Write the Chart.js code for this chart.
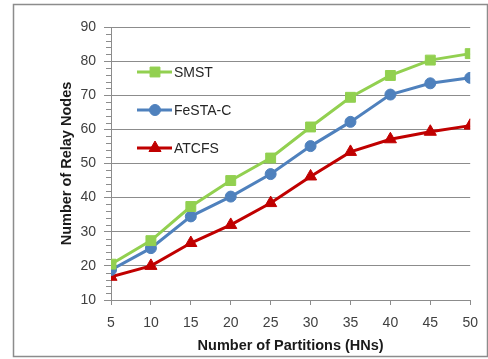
<!DOCTYPE html>
<html lang="en">
<head>
    <meta charset="UTF-8">
    <title>Relay Nodes vs Partitions</title>
    <script src="https://cdn.jsdelivr.net/npm/chart.js"></script>
    <style>
        body { margin: 0; background: #fff; }
        #wrap { position: relative; width: 488px; height: 359px; }
    </style>
</head>
<body>
    <div id="wrap"><canvas id="relayChart" width="488" height="359"></canvas></div>

    <script>
        // number of partitions (HNs)
        const partitions = [5, 10, 15, 20, 25, 30, 35, 40, 45, 50];
        const smst   = [20.5, 27.4, 37.4, 45.0, 51.6, 60.7, 69.4, 75.8, 80.3, 82.2];
        const festaC = [18.8, 25.2, 34.5, 40.3, 46.9, 55.1, 62.2, 70.2, 73.5, 75.1];
        const atcfs  = [16.8, 20.0, 26.7, 32.0, 38.4, 46.2, 53.4, 57.1, 59.3, 61.1];
        const yTicks = [10, 20, 30, 40, 50, 60, 70, 80, 90];

        const fontName = "'Liberation Sans', Arial, sans-serif";

        function toPoints(values) {
            return partitions.map((x, i) => ({ x: x, y: values[i] }));
        }

        // frame around the whole figure
        const framePlugin = {
            id: 'frame',
            beforeDraw(chart) {
                const ctx = chart.ctx;
                ctx.save();
                ctx.strokeStyle = '#8c8c8c';
                ctx.lineWidth = 1.5;
                ctx.strokeRect(13.5, 4.5, 474, 352);
                ctx.restore();
            }
        };

        // small ticks on the y axis between the labelled ones
        const minorTicks = {
            id: 'minorTicks',
            afterDraw(chart) {
                const y = chart.scales.y;
                const ctx = chart.ctx;
                ctx.save();
                ctx.strokeStyle = '#8c8c8c';
                ctx.lineWidth = 1;
                for (let v = y.min; v <= y.max; v += 2) {
                    if (v % 10 === 0) continue;
                    const py = Math.round(y.getPixelForValue(v)) + 0.5;
                    ctx.beginPath();
                    ctx.moveTo(y.right - 5, py);
                    ctx.lineTo(y.right, py);
                    ctx.stroke();
                }
                ctx.restore();
            }
        };

        // legend drawn inside the plot area
        const innerLegend = {
            id: 'innerLegend',
            afterDatasetsDraw(chart) {
                const ctx = chart.ctx;
                const rows = [72, 110, 148];
                ctx.save();
                chart.data.datasets.forEach((ds, i) => {
                    const cy = rows[i];
                    ctx.strokeStyle = ds.borderColor;
                    ctx.lineWidth = 3;
                    ctx.beginPath();
                    ctx.moveTo(137, cy);
                    ctx.lineTo(172, cy);
                    ctx.stroke();
                    ctx.fillStyle = ds.borderColor;
                    ctx.lineWidth = 1;
                    Chart.helpers.drawPoint(ctx, {
                        pointStyle: ds.pointStyle,
                        radius: ds.pointRadius,
                        borderWidth: 1
                    }, 155, cy);
                    ctx.fillStyle = '#262626';
                    ctx.font = '14px ' + fontName;
                    ctx.textBaseline = 'middle';
                    ctx.fillText(ds.label, 174, cy + 1);
                });
                ctx.restore();
            }
        };

        function series(label, values, color, style, radius) {
            return {
                label: label,
                data: toPoints(values),
                borderColor: color,
                backgroundColor: color,
                pointBackgroundColor: color,
                pointBorderColor: color,
                pointBorderWidth: 1,
                pointStyle: style,
                pointRadius: radius,
                borderWidth: 3,
                tension: 0
            };
        }

        new Chart(document.getElementById('relayChart'), {
            type: 'line',
            data: {
                datasets: [
                    series('SMST', smst, '#92d050', 'rect', 7),
                    series('FeSTA-C', festaC, '#4f81bd', 'circle', 5.5),
                    series('ATCFS', atcfs, '#c00000', 'triangle', 7)
                ]
            },
            options: {
                responsive: false,
                animation: false,
                layout: { padding: { left: 0, right: 15, top: 27, bottom: 0 } },
                plugins: {
                    legend: { display: false },
                    tooltip: { enabled: false }
                },
                scales: {
                    x: {
                        type: 'linear',
                        min: 5,
                        max: 50,
                        afterFit(scale) { scale.height = 59; },
                        afterBuildTicks(scale) {
                            scale.ticks = partitions.map(v => ({ value: v }));
                        },
                        border: { color: '#8c8c8c', width: 1 },
                        grid: { drawOnChartArea: false, drawTicks: true, tickLength: 5, color: '#8c8c8c' },
                        ticks: { color: '#404040', font: { family: fontName, size: 14 }, padding: 10, maxRotation: 0 },
                        title: {
                            display: true,
                            text: 'Number of Partitions (HNs)',
                            color: '#1a1a1a',
                            font: { family: fontName, size: 14.5, weight: 'bold' },
                            padding: { top: 0, bottom: 4 }
                        }
                    },
                    y: {
                        min: 10,
                        max: 90,
                        afterFit(scale) { scale.width = 111; },
                        afterBuildTicks(scale) {
                            scale.ticks = yTicks.map(v => ({ value: v }));
                        },
                        border: { color: '#8c8c8c', width: 1 },
                        grid: { color: '#8c8c8c', lineWidth: 1, drawTicks: true, tickLength: 7 },
                        ticks: { color: '#404040', font: { family: fontName, size: 14 }, padding: 8 },
                        title: {
                            display: true,
                            text: 'Number of Relay Nodes',
                            color: '#1a1a1a',
                            font: { family: fontName, size: 14.5, weight: 'bold' },
                            padding: { top: 58, bottom: 0 }
                        }
                    }
                }
            },
            plugins: [framePlugin, minorTicks, innerLegend]
        });
    </script>
</body>
</html>
